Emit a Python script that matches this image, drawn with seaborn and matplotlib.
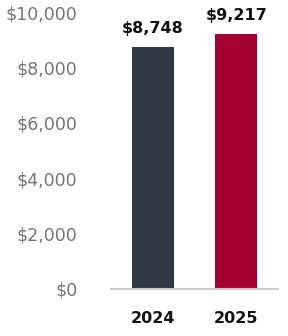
import matplotlib
matplotlib.use("Agg")
import matplotlib.pyplot as plt
import seaborn as sns
import pandas as pd

years = ["2024", "2025"]
values = [8748, 9217]
colors = ["#313744", "#a50034"]
value_labels = ["$8,748", "$9,217"]
yticks = [0, 2000, 4000, 6000, 8000, 10000]
ytick_labels = ["$0", "$2,000", "$4,000", "$6,000", "$8,000", "$10,000"]

sns.set_theme(style="white")
plt.rcParams['font.family'] = ['DejaVu Sans']

df = pd.DataFrame({"year": years, "value": values})

fig = plt.figure(figsize=(2.88, 3.36), dpi=100)
ax = fig.add_axes([0.385, 0.140, 0.580, 0.824])
sns.barplot(data=df, x="year", y="value", hue="year", palette=colors,
            width=0.5, legend=False, ax=ax, saturation=1, linewidth=0)

ax.set_xlim(-0.5, 1.5)
ax.set_ylim(0, 10000)
ax.set_yticks(yticks)
ax.set_yticklabels(ytick_labels, fontsize=12.5, color="#747474")
ax.tick_params(axis="y", length=0, pad=24)
ax.tick_params(axis="x", length=0, pad=16)
for lbl in ax.get_xticklabels():
    lbl.set_fontweight("bold")
    lbl.set_fontsize(11.5)
    lbl.set_color("#111111")
ax.set_xlabel("")
ax.set_ylabel("")
for s in ["top", "right", "left"]:
    ax.spines[s].set_visible(False)
ax.spines["bottom"].set_color("#cccccc")
ax.spines["bottom"].set_linewidth(1.5)
ax.grid(False)

for i, (v, t) in enumerate(zip(values, value_labels)):
    ax.annotate(t, (i, v), xytext=(0, 8), textcoords="offset points",
                ha="center", va="bottom", fontsize=11.5, fontweight="bold",
                color="#111111", annotation_clip=False)

fig.savefig("out.png", dpi=100)
